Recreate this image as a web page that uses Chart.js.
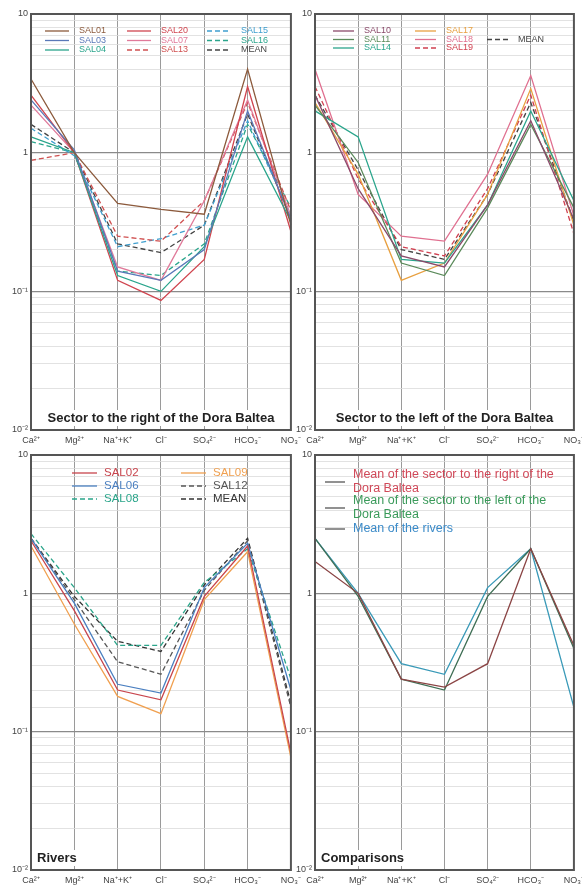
<!DOCTYPE html>
<html>
<head>
<meta charset="utf-8">
<script src="https://cdn.jsdelivr.net/npm/chart.js@4.4.1/dist/chart.umd.min.js"></script>
<style>
  body { margin: 0; background: #fff; width: 582px; height: 890px; position: relative; overflow: hidden; }
  .panel { position: absolute; }
</style>
</head>
<body>
<div class="panel" style="left:0;top:0;width:306px;height:450px"><canvas id="right"></canvas></div>
<div class="panel" style="left:284px;top:0;width:305px;height:450px"><canvas id="left"></canvas></div>
<div class="panel" style="left:0;top:440px;width:306px;height:450px"><canvas id="rivers"></canvas></div>
<div class="panel" style="left:284px;top:440px;width:305px;height:450px"><canvas id="comp"></canvas></div>
<script>
// ions on the x axis (Schoeller diagram), values in meq/L on a log axis
const IONS = ['Ca²⁺', 'Mg²⁺', 'Na⁺+K⁺', 'Cl⁻', 'SO₄²⁻', 'HCO₃⁻', 'NO₃⁻'];
const DECADE_LABELS = ['10⁻²', '10⁻¹', '1', '10'];

// sector to the right of the Dora Baltea
const R_SAL01 = [3.4, 1.0, 0.43, 0.39, 0.36, 4.0, 0.30];
const R_SAL03 = [2.4, 1.05, 0.14, 0.12, 0.20, 2.0, 0.33];
const R_SAL04 = [1.3, 1.0, 0.13, 0.10, 0.21, 1.3, 0.32];
const R_SAL20 = [2.6, 1.0, 0.12, 0.086, 0.17, 3.0, 0.27];
const R_SAL07 = [2.2, 1.0, 0.15, 0.12, 0.45, 2.4, 0.35];
const R_SAL13 = [0.88, 1.0, 0.25, 0.23, 0.45, 2.3, 0.38];
const R_SAL15 = [1.5, 0.95, 0.21, 0.24, 0.30, 1.7, 0.35];
const R_SAL16 = [1.2, 1.0, 0.14, 0.13, 0.22, 1.6, 0.40];
const R_MEAN  = [1.6, 1.0, 0.22, 0.19, 0.30, 1.9, 0.33];

// sector to the left of the Dora Baltea
const L_SAL10 = [2.6, 0.55, 0.18, 0.15, 0.42, 1.7, 0.33];
const L_SAL11 = [2.2, 0.85, 0.16, 0.13, 0.40, 1.6, 0.40];
const L_SAL14 = [2.0, 1.3, 0.17, 0.16, 0.42, 2.0, 0.45];
const L_SAL17 = [2.3, 0.70, 0.12, 0.16, 0.50, 2.9, 0.30];
const L_SAL18 = [4.0, 0.50, 0.25, 0.23, 0.70, 3.6, 0.35];
const L_SAL19 = [3.0, 0.65, 0.21, 0.18, 0.55, 2.6, 0.26];
const L_MEAN  = [2.6, 0.75, 0.20, 0.17, 0.50, 2.3, 0.32];

// rivers
const V_SAL02 = [2.4, 0.75, 0.20, 0.17, 0.95, 2.2, 0.07];
const V_SAL06 = [2.5, 0.85, 0.22, 0.19, 1.10, 2.3, 0.20];
const V_SAL08 = [2.7, 1.10, 0.42, 0.42, 1.20, 2.1, 0.24];
const V_SAL09 = [2.2, 0.60, 0.18, 0.135, 0.90, 2.0, 0.065];
const V_SAL12 = [2.5, 0.90, 0.32, 0.26, 1.05, 2.4, 0.15];
const V_MEAN  = [2.5, 0.95, 0.45, 0.38, 1.15, 2.5, 0.16];

// comparisons
const C_RIGHT  = [1.7, 1.0, 0.24, 0.21, 0.31, 2.1, 0.42];
const C_LEFT   = [2.5, 0.95, 0.24, 0.20, 0.95, 2.1, 0.40];
const C_RIVERS = [2.5, 1.0, 0.31, 0.26, 1.10, 2.1, 0.15];

const FONT = "'Liberation Sans', Arial, sans-serif";
const DASH = [5, 3];

function isDecade(v) {
    const l = Math.log10(v);
    return Math.abs(l - Math.round(l)) < 1e-6;
}

const decor = {
    id: 'decor',
    afterDatasetsDraw(chart, args, opts) {
        const { ctx, chartArea: a } = chart;
        ctx.save();
        // frame
        ctx.strokeStyle = '#555';
        ctx.lineWidth = 2;
        ctx.strokeRect(a.left, a.top, a.right - a.left, a.bottom - a.top);

        // panel title
        ctx.font = 'bold 13px ' + FONT;
        ctx.textBaseline = 'middle';
        const w = ctx.measureText(opts.title).width;
        const tx = opts.titleAlign === 'center' ? (a.left + a.right) / 2 - w / 2 : a.left + 6;
        const ty = a.bottom - 12;
        ctx.fillStyle = '#fff';
        ctx.fillRect(tx - 2, ty - 8, w + 4, 16);
        ctx.fillStyle = '#222';
        ctx.fillText(opts.title, tx, ty);

        // legend, one slot [column, row] per dataset
        const lg = opts.legend;
        ctx.font = lg.font + 'px ' + FONT;
        chart.data.datasets.forEach((ds, i) => {
            const slot = lg.slots[i];
            const x = a.left + lg.cols[slot[0]];
            const y = a.top + lg.rows[slot[1]];
            ctx.strokeStyle = lg.lineColor || ds.borderColor;
            ctx.lineWidth = 1.3;
            ctx.setLineDash(ds.borderDash || []);
            ctx.beginPath();
            ctx.moveTo(x, y);
            ctx.lineTo(x + lg.len, y);
            ctx.stroke();
            ctx.setLineDash([]);
            ctx.fillStyle = ds.textColor || ds.borderColor;
            const lines = ds.label.split('\n');
            lines.forEach((t, k) => {
                const yy = y + (k - (lines.length - 1) / 2) * lg.lineH;
                ctx.fillText(t, x + lg.len + lg.gap, yy);
            });
        });
        ctx.restore();
    }
};

function series(label, data, color, dashed, textColor) {
    return {
        label, data, textColor,
        borderColor: color,
        borderDash: dashed ? DASH : [],
        borderWidth: 1.3,
        pointRadius: 0,
        tension: 0,
        fill: false
    };
}

function makeChart(id, datasets, padTop, padRight, decorOpts) {
    return new Chart(document.getElementById(id), {
        type: 'line',
        data: { labels: IONS, datasets },
        options: {
            responsive: true,
            maintainAspectRatio: false,
            animation: false,
            layout: { padding: { top: padTop, right: padRight, left: 0, bottom: 0 } },
            plugins: { legend: { display: false }, tooltip: { enabled: false }, decor: decorOpts },
            scales: {
                x: {
                    type: 'category',
                    offset: false,
                    border: { display: false },
                    grid: { color: '#9a9a9a', lineWidth: 1, drawTicks: false },
                    ticks: { autoSkip: false, maxRotation: 0, color: '#444', padding: 5, font: { size: 9, family: FONT } },
                    afterFit: s => { s.height = 20; }
                },
                y: {
                    type: 'logarithmic',
                    min: 0.01,
                    max: 10,
                    border: { display: false },
                    grid: {
                        drawTicks: false,
                        color: c => isDecade(c.tick.value) ? '#8a8a8a' : '#dadada',
                        lineWidth: c => isDecade(c.tick.value) ? 1.2 : 0.8
                    },
                    ticks: {
                        autoSkip: false,
                        color: '#444',
                        padding: 3,
                        font: { size: 9, family: FONT },
                        callback: v => isDecade(v) ? DECADE_LABELS[Math.round(Math.log10(v)) + 2] : ''
                    },
                    afterFit: s => { s.width = 31; }
                }
            }
        },
        plugins: [decor]
    });
}

makeChart('right', [
    series('SAL01', R_SAL01, '#8c5a3c', false),
    series('SAL03', R_SAL03, '#5a78b8', false),
    series('SAL04', R_SAL04, '#2aa58c', false),
    series('SAL20', R_SAL20, '#d0454f', false),
    series('SAL07', R_SAL07, '#e07a9a', false),
    series('SAL13', R_SAL13, '#d05050', true),
    series('SAL15', R_SAL15, '#3f9fcf', true),
    series('SAL16', R_SAL16, '#2aa58c', true),
    series('MEAN', R_MEAN, '#444444', true)
], 14, 14, {
    title: 'Sector to the right of the Dora Baltea', titleAlign: 'center',
    legend: { font: 9, cols: [14, 96, 176], rows: [17, 26.5, 36], len: 24, gap: 10, lineH: 10,
              slots: [[0,0],[0,1],[0,2],[1,0],[1,1],[1,2],[2,0],[2,1],[2,2]] }
});

makeChart('left', [
    series('SAL10', L_SAL10, '#8a4a6a', false),
    series('SAL11', L_SAL11, '#5a8a5a', false),
    series('SAL14', L_SAL14, '#2aa58c', false),
    series('SAL17', L_SAL17, '#e8a040', false),
    series('SAL18', L_SAL18, '#e07090', false),
    series('SAL19', L_SAL19, '#d04050', true),
    series('MEAN', L_MEAN, '#444444', true)
], 14, 14, {
    title: 'Sector to the left of the Dora Baltea', titleAlign: 'center',
    legend: { font: 9, cols: [18, 100, 172], rows: [17, 25.5, 34], len: 21, gap: 10, lineH: 10,
              slots: [[0,0],[0,1],[0,2],[1,0],[1,1],[1,2],[2,1]] }
});

makeChart('rivers', [
    series('SAL02', V_SAL02, '#c8454d', false),
    series('SAL06', V_SAL06, '#4a7fc0', false),
    series('SAL08', V_SAL08, '#2aa58a', true),
    series('SAL09', V_SAL09, '#f0a050', false),
    series('SAL12', V_SAL12, '#555555', true),
    series('MEAN', V_MEAN, '#333333', true)
], 15, 14, {
    title: 'Rivers', titleAlign: 'left',
    legend: { font: 11.5, cols: [41, 150], rows: [18, 31, 44], len: 25, gap: 7, lineH: 12,
              slots: [[0,0],[0,1],[0,2],[1,0],[1,1],[1,2]] }
});

makeChart('comp', [
    series('Mean of the sector to the right of the\nDora Baltea', C_RIGHT, '#8b4545', false, '#d04858'),
    series('Mean of the sector to the left of the\nDora Baltea', C_LEFT, '#3f6f55', false, '#3a9a5a'),
    series('Mean of the rivers', C_RIVERS, '#3a9ab8', false, '#3a8ac8')
], 15, 14, {
    title: 'Comparisons', titleAlign: 'left',
    legend: { font: 12.5, cols: [10], rows: [27, 53, 74], len: 20, gap: 8, lineH: 14, lineColor: '#555',
              slots: [[0,0],[0,1],[0,2]] }
});
</script>
</body>
</html>
